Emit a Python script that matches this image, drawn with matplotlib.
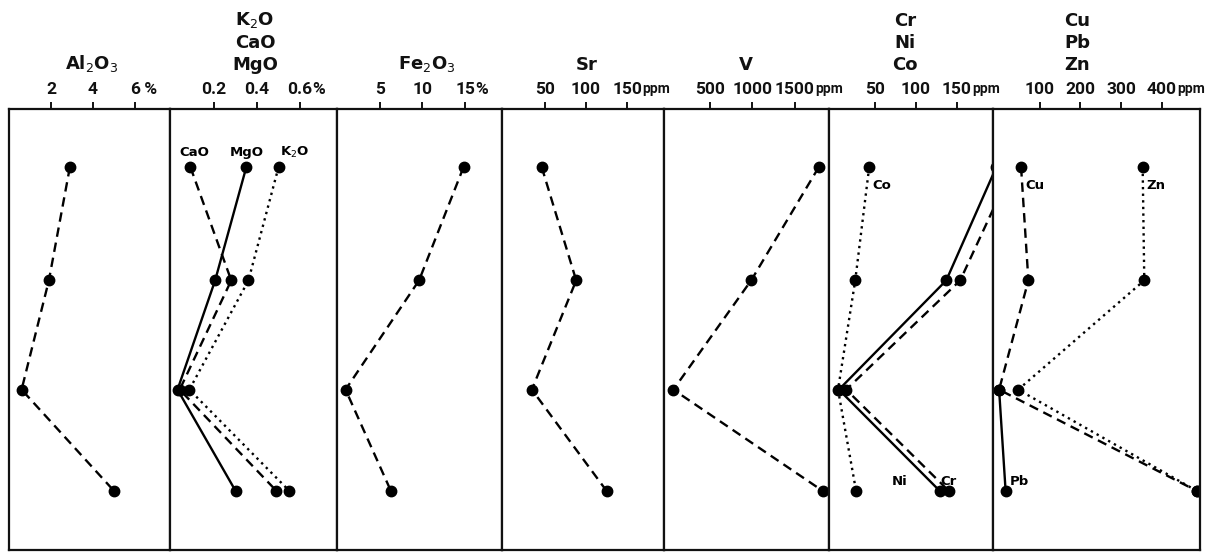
import numpy as np
import matplotlib
matplotlib.use("Agg")
import matplotlib.pyplot as plt

# relative depth of the four samples (top of box = 0)
sample_depth = [58, 171, 280, 381]

# element / oxide contents per sample
al2o3 = [2.9, 1.9, 0.6, 5.0]          # %
cao = [0.09, 0.28, 0.04, 0.49]        # %
mgo = [0.35, 0.205, 0.03, 0.30]       # %
k2o = [0.50, 0.36, 0.085, 0.55]       # %
fe2o3 = [14.8, 9.6, 1.0, 6.3]         # %
sr = [46, 88, 34, 125]                # ppm
v = [1780, 985, 70, 1825]             # ppm
cr = [218, 154, 15, 140]              # ppm
ni = [198, 137, 6, 129]               # ppm
co = [43, 26, 5, 27]                  # ppm
cu = [54, 72, 0, 486]                 # ppm
pb = [np.nan, np.nan, 0, 16]          # ppm
zn = [353, 357, 47, 486]              # ppm

# axis ticks, labels and units per panel
panel_ticks = [[2, 4, 6], [0.2, 0.4, 0.6], [5, 10, 15], [50, 100, 150],
               [500, 1000, 1500], [50, 100, 150], [100, 200, 300, 400]]
panel_ticklabels = [["2", "4", "6"], ["0.2", "0.4", "0.6"],
                    ["5", "10", "15"], ["50", "100", "150"],
                    ["500", "1000", "1500"], ["50", "100", "150"],
                    ["100", "200", "300", "400"]]
panel_units = [" %", "%", "%", "ppm", "ppm", "ppm", "ppm"]
panel_headers = [r"Al$_2$O$_3$", "K$_2$O\nCaO\nMgO", r"Fe$_2$O$_3$", "Sr",
                 "V", "Cr\nNi\nCo", "Cu\nPb\nZn"]

# ---- layout (pixels of a 1210 x 553 figure) ----
W, H = 1210, 553
edges = [9, 170, 337, 502, 664, 829, 993, 1200]
top_px, bot_px = 109, 550
xlims = [(0, 7.67), (-0.005, 0.772), (0, 19.3), (-2.4, 195),
         (-40, 1900), (-6, 194), (-15, 494)]
header_x = [92, 255, 427, 587, 746, 905, 1077]

tick_font = ["Roboto", "DejaVu Sans"]
dash = (0, (4, 2.5))
dot = (0, (1, 1.8))
small = dict(fontsize=9.5, fontweight="bold", textcoords="offset pixels")

series = [
    [(al2o3, dash)],
    [(cao, dash), (mgo, "-"), (k2o, dot)],
    [(fe2o3, dash)],
    [(sr, dash)],
    [(v, dash)],
    [(cr, dash), (ni, "-"), (co, dot)],
    [(cu, dash), (pb, "-"), (zn, dot)],
]

fig = plt.figure(figsize=(W / 100, H / 100), dpi=100)
axes = []

for i in range(7):
    l, r = edges[i], edges[i + 1]
    ax = fig.add_axes([l / W, 1 - bot_px / H, (r - l) / W, (bot_px - top_px) / H])
    axes.append(ax)
    ax.set_xlim(*xlims[i])
    ax.set_ylim(440, 0)
    for sp in ax.spines.values():
        sp.set_linewidth(1.6)
        sp.set_color("#111111")
    ax.xaxis.tick_top()
    ax.set_xticks(panel_ticks[i])
    ax.set_xticklabels(panel_ticklabels[i], family=tick_font,
                       fontweight="bold", fontsize=12.5)
    ax.tick_params(axis="x", direction="out", length=5, width=1.4, pad=4,
                   colors="#111111")
    ax.set_yticks([])

    for vals, ls in series[i]:
        ax.plot(vals, sample_depth, color="black", linestyle=ls,
                linewidth=1.7, marker="o", markersize=7.5)

    fig.text(header_x[i] / W, 1 - 74 / H, panel_headers[i], ha="center",
             va="bottom", fontsize=13, fontweight="bold", linespacing=1.3,
             color="#111111")

# curve labels inside panels
ax = axes[1]
ax.annotate("CaO", (cao[0], sample_depth[0]), xytext=(4, 11), ha="center", **small)
ax.annotate("MgO", (mgo[0], sample_depth[0]), xytext=(0, 11), ha="center", **small)
ax.annotate(r"K$_2$O", (k2o[0], sample_depth[0]), xytext=(16, 11), ha="center", **small)
ax = axes[5]
ax.annotate("Co", (co[0], sample_depth[0]), xytext=(3, -12), ha="left", va="top", **small)
ax.annotate("Ni", (ni[3], sample_depth[3]), xytext=(-40, 6), ha="center", **small)
ax.annotate("Cr", (cr[3], sample_depth[3]), xytext=(0, 6), ha="center", **small)
ax = axes[6]
ax.annotate("Cu", (cu[0], sample_depth[0]), xytext=(4, -12), ha="left", va="top", **small)
ax.annotate("Zn", (zn[0], sample_depth[0]), xytext=(4, -12), ha="left", va="top", **small)
ax.annotate("Pb", (pb[3], sample_depth[3]), xytext=(4, 6), ha="left", **small)

# units appended after the last tick label of each panel
fig.canvas.draw()
renderer = fig.canvas.get_renderer()
for ax, unit in zip(axes, panel_units):
    bb = ax.get_xticklabels()[-1].get_window_extent(renderer)
    size = 12.5 if "%" in unit else 10
    fig.text(bb.x1 / W, bb.y0 / H, unit, ha="left", va="bottom",
             family=tick_font, fontweight="bold", fontsize=size,
             color="#111111")

fig.savefig("out.png", dpi=100, facecolor="white")
